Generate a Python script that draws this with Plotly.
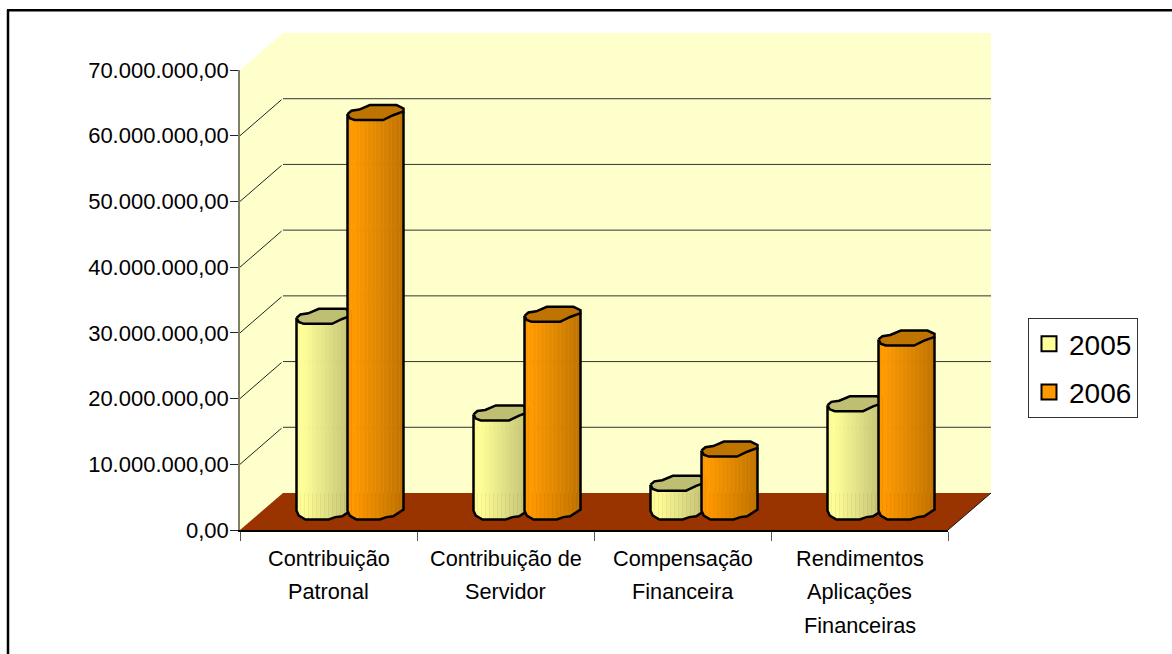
import numpy as np
import plotly.graph_objects as go

# ---- data ----
categories = ["Contribuição Patronal", "Contribuição de Servidor",
              "Compensação Financeira", "Rendimentos Aplicações Financeiras"]
label_lines = [["Contribuição", "Patronal"], ["Contribuição de", "Servidor"],
               ["Compensação", "Financeira"], ["Rendimentos", "Aplicações", "Financeiras"]]
values_2005 = [29700000, 15000000, 4300000, 16400000]
values_2006 = [60700000, 30000000, 9500000, 26400000]
tick_values = [0, 10000000, 20000000, 30000000, 40000000, 50000000, 60000000, 70000000]
tick_labels = ["0,00", "10.000.000,00", "20.000.000,00", "30.000.000,00",
               "40.000.000,00", "50.000.000,00", "60.000.000,00", "70.000.000,00"]

# ---- geometry of the chart (in pixels, converted into axis units) ----
W, H = 1172, 654
PL, PR, PT, PB = 240, 948, 70, 530          # front plot box
CAT_PX = (PR - PL) / 4
U = 70000000 / (PB - PT)                    # value units per pixel
DX = 43 / CAT_PX                            # depth offset
DY = 37 * U
R = 28 / CAT_PX                             # cylinder half width
EH = 7.5 * U                                # cylinder cap half height
EB = 8 * U                                  # cylinder base half height
SEP = 25.5 / CAT_PX                         # half distance between the two cylinders

FONT = "Liberation Sans"
YEL, ORG = (255, 255, 153), (255, 153, 0)

# faceted outline of the cylinder ends (unit coordinates)
cap_back = [(-1, -.2), (-.86, .25), (-.58, .4), (-.2, 1), (.75, 1), (1, .55), (1, .15)]
top_front = [(1, .15), (.63, -.35), (.27, -1), (-.74, -1), (-.92, -.75), (-1, -.2)]
base_front = [(1, .25), (.63, -.6), (.39, -.7), (.15, -1), (-.68, -1), (-.92, -.5), (-1, .1)]


def curve(pts, u):
    p = sorted(pts)
    return np.interp(u, [a for a, _ in p], [b for _, b in p])


def shade(c, f):
    return "rgb(%d,%d,%d)" % tuple(int(round(v * f)) for v in c)


fig = go.Figure()


def poly(xs, ys, fill=None, line=None, width=0):
    fig.add_trace(go.Scatter(
        x=list(xs), y=list(ys), mode="lines", fill="toself" if fill else "none",
        fillcolor=fill, line=dict(color=line or "rgba(0,0,0,0)", width=width),
        hoverinfo="skip", showlegend=False, xaxis="x", yaxis="y"))


# walls and floor
wall = "#FFFFCC"
poly([0, DX, 4 + DX, 4 + DX, DX, 0, 0], [70e6, 70e6 + DY, 70e6 + DY, DY, DY, 0, 70e6], fill=wall)
poly([0, DX, 4 + DX, 4, 0], [0, DY, DY, 0, 0], fill="#993300")
gap = 1.5 / CAT_PX
for v in tick_values[1:-1]:
    poly([0, DX - gap], [v, v + DY - 1.0 * U], line="#222222", width=1)
    poly([DX, 4 + DX], [v + DY, v + DY], line="#333333", width=1)
poly([4, 4 + DX], [0, DY], line="#111111", width=1)


def cylinder(cx, value, base):
    cy = 0.5 * DX + cx
    b0 = 0.5 * DY
    t0 = b0 + value
    edges = np.linspace(-1, 1, 15)
    for k in range(14):
        e = edges[k:k + 2]
        t = (k + .5) / 14
        f = 0.97 + t * 0.25 if t < .12 else 1.0 - max(0, t - .12) * 0.285
        xs = cy + e * R
        top = t0 + curve(top_front, e) * EH
        bot = b0 + curve(base_front, e) * EB
        poly([xs[0], xs[1], xs[1], xs[0], xs[0]], [top[0], top[1], bot[1], bot[0], top[0]],
             fill=shade(base, min(f, 1.0)), line=shade(base, min(f, 1.0)), width=.5)
    # side outline
    bx = [p[0] for p in base_front]
    by = [b0 + p[1] * EB for p in base_front]
    tl, tr = t0 + top_front[-1][1] * EH, t0 + top_front[0][1] * EH
    poly([cy + R] + [cy + a * R for a in bx] + [cy - R],
         [tr] + by + [tl], line="black", width=2.5)
    # cap
    cap = cap_back + top_front[1:]
    poly([cy + a * R for a, _ in cap], [t0 + b * EH for _, b in cap],
         fill=shade(base, .75), line="black", width=2.5)


for i in range(len(categories)):
    c = i + .5
    cylinder(c - SEP, values_2005[i], YEL)
    cylinder(c + SEP, values_2006[i], ORG)

# visible axes: carry the ticks, labels and axis lines
fig.add_trace(go.Scatter(x=categories, y=[None] * 4, mode="lines", xaxis="x2", yaxis="y2",
                         hoverinfo="skip", showlegend=False))

# legend entries
for name, col in (("2005", YEL), ("2006", ORG)):
    fig.add_trace(go.Scatter(x=[None], y=[None], mode="markers", name=name, legendgroup=name,
                             marker=dict(symbol="square", size=15, color=shade(col, 1),
                                         line=dict(color="black", width=2)),
                             xaxis="x", yaxis="y"))

# category labels
LINE_PX = 33.5
for i, lines in enumerate(label_lines):
    for j, txt in enumerate(lines):
        fig.add_annotation(x=categories[i], xref="x2", y=1 - (558 + j * LINE_PX) / H, yref="paper",
                           text=txt, showarrow=False, xanchor="center", yanchor="middle",
                           font=dict(family=FONT, size=21.7, color="black"))

# frame (left and top rules)
fig.add_shape(type="line", xref="paper", yref="paper", x0=8 / W, x1=8 / W, y0=0, y1=1 - 10 / H,
              line=dict(color="black", width=2.5))
fig.add_shape(type="line", xref="paper", yref="paper", x0=7 / W, x1=1, y0=1 - 10.3 / H, y1=1 - 10.3 / H,
              line=dict(color="black", width=2.5))

fig.update_layout(
    width=W, height=H, margin=dict(l=0, r=0, t=0, b=0, autoexpand=False),
    paper_bgcolor="white", plot_bgcolor="rgba(0,0,0,0)",
    font=dict(family=FONT, color="black"),
    xaxis=dict(domain=[0, 1], range=[-PL / CAT_PX, (W - PL) / CAT_PX], visible=False, fixedrange=True),
    yaxis=dict(domain=[0, 1], range=[-(H - PB) * U, PB * U], visible=False, fixedrange=True),
    xaxis2=dict(domain=[PL / W, PR / W], anchor="y2", type="category", categoryorder="array",
                categoryarray=categories, range=[-.5, 3.5], tickson="boundaries", ticks="outside",
                ticklen=9, tickcolor="#555555", showticklabels=False, showgrid=False,
                showline=True, linecolor="black", linewidth=1.5, zeroline=False, fixedrange=True),
    yaxis2=dict(domain=[1 - PB / H, 1 - PT / H], anchor="x2", range=[0, 70000000],
                tickmode="array", tickvals=tick_values, ticktext=tick_labels, ticks="outside",
                ticklen=8, ticklabelstandoff=-3, tickcolor="#222222",
                tickfont=dict(family=FONT, size=22, color="black"),
                showgrid=False, showline=True, linecolor="#808066", linewidth=1.5, zeroline=False,
                fixedrange=True),
    legend=dict(x=1028 / W, y=1 - 318 / H, xanchor="left", yanchor="top", bgcolor="white",
                bordercolor="#333333", borderwidth=1, font=dict(family=FONT, size=28, color="black"),
                tracegroupgap=9, itemclick=False, itemdoubleclick=False),
)

fig.write_html("out.html", config=dict(displayModeBar=False),
               post_script="document.body.style.margin='0';document.body.style.overflow='hidden';")
